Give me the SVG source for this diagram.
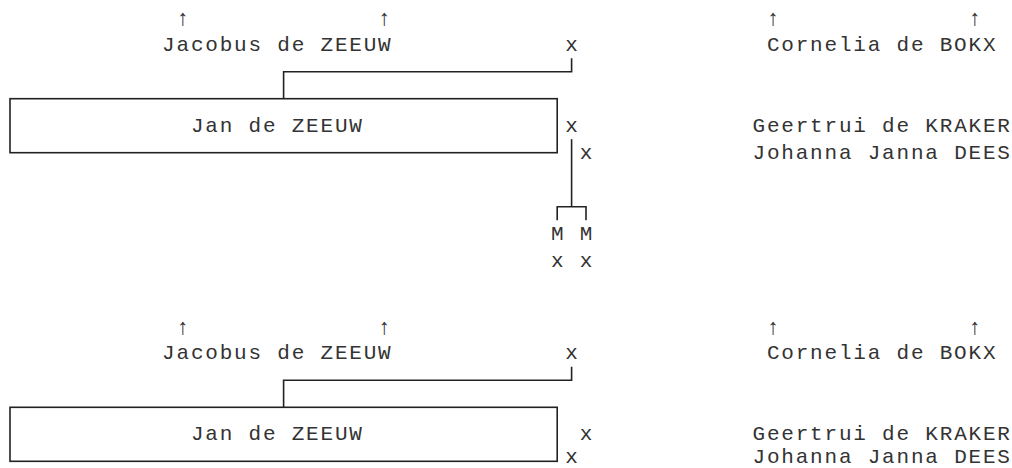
<svg xmlns="http://www.w3.org/2000/svg" width="1012" height="468" viewBox="0 0 1012 468">
<style>
text{font-family:"Liberation Mono","DejaVu Sans Mono",monospace;font-size:21px;letter-spacing:1.8px;fill:#333}
.ar{text-anchor:middle;font-size:22px;letter-spacing:0}
.box{fill:#fff;stroke:#222;stroke-width:1.6}
.conn path{fill:none;stroke:#222;stroke-width:1.6}
</style>
<rect width="1012" height="468" fill="#fff"/>
<!-- block 1 -->
<g id="block1">
  <g id="b1-arrows">
    <text class="ar" x="182.8" y="25">↑</text>
    <text class="ar" x="384.4" y="25">↑</text>
    <text class="ar" x="773.2" y="25">↑</text>
    <text class="ar" x="974.8" y="25">↑</text>
  </g>
  <g id="b1-jacobus"><text x="162.1" y="50.7">Jacobus de ZEEUW</text></g>
  <g id="b1-x-father"><text x="565.3" y="50.7">x</text></g>
  <g id="b1-cornelia"><text x="766.9" y="50.7">Cornelia de BOKX</text></g>
  <g id="b1-jan">
    <rect class="box" x="10" y="98.7" width="547.2" height="54"/>
    <text x="190.9" y="131.7">Jan de ZEEUW</text>
  </g>
  <g id="b1-x-jan1"><text x="565.3" y="131.7">x</text></g>
  <g id="b1-geertrui"><text x="752.5" y="131.7">Geertrui de KRAKER</text></g>
  <g id="b1-x-jan2"><text x="579.7" y="158.7">x</text></g>
  <g id="b1-johanna"><text x="752.5" y="158.7">Johanna Janna DEES</text></g>
  <g id="b1-children">
    <text x="550.9" y="239.7">M M</text>
    <text x="550.9" y="266.7">x x</text>
  </g>
  <g id="b1-connectors" class="conn">
    <path d="M283.6 98.7V71.7H571.6V58.2"/>
    <path d="M571.6 139.2V206.7"/>
    <path d="M557.2 220.2V206.7H586V220.2"/>
  </g>
</g>
<!-- block 2 -->
<g id="block2">
  <g id="b2-arrows">
    <text class="ar" x="182.8" y="333.6">↑</text>
    <text class="ar" x="384.4" y="333.6">↑</text>
    <text class="ar" x="773.2" y="333.6">↑</text>
    <text class="ar" x="974.8" y="333.6">↑</text>
  </g>
  <g id="b2-jacobus"><text x="162.1" y="359.3">Jacobus de ZEEUW</text></g>
  <g id="b2-x-father"><text x="565.3" y="359.3">x</text></g>
  <g id="b2-cornelia"><text x="766.9" y="359.3">Cornelia de BOKX</text></g>
  <g id="b2-jan">
    <rect class="box" x="10" y="407.3" width="547.2" height="54"/>
    <text x="190.9" y="440.3">Jan de ZEEUW</text>
  </g>
  <g id="b2-x-jan1"><text x="579.7" y="440.3">x</text></g>
  <g id="b2-geertrui"><text x="752.5" y="440.3">Geertrui de KRAKER</text></g>
  <g id="b2-x-jan2"><text x="565.3" y="462.5">x</text></g>
  <g id="b2-johanna"><text x="752.5" y="462.5">Johanna Janna DEES</text></g>
  <g id="b2-connectors" class="conn">
    <path d="M283.6 407.3V380.3H571.6V366.8"/>
  </g>
</g>
</svg>
